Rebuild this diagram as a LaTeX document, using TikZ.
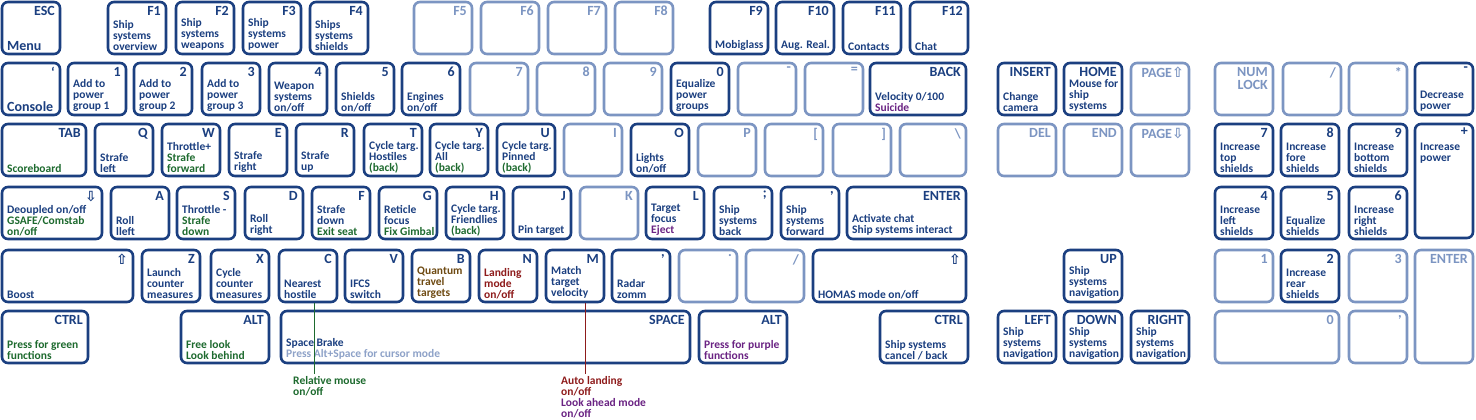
\documentclass[tikz,border=0pt]{standalone}
\usepackage{fontspec}
\setmainfont{Carlito}
\newfontfamily\arw{DejaVu Sans}
\definecolor{dk}{HTML}{1B3F80}
\definecolor{lt}{HTML}{7C95C2}
\definecolor{gn}{HTML}{1D6A2E}
\definecolor{br}{HTML}{6E4A12}
\definecolor{rd}{HTML}{8E1B1B}
\definecolor{pu}{HTML}{6A2383}
\definecolor{gy}{HTML}{8EA2C8}
\newcommand\cG[1]{\textcolor{gn}{#1}}
\newcommand\cR[1]{\textcolor{rd}{#1}}
\newcommand\cP[1]{\textcolor{pu}{#1}}
\newcommand\cB[1]{\textcolor{br}{#1}}
\newcommand\cY[1]{\textcolor{gy}{#1}}
\newcommand\uparw{{\arw\char"21E7}}
\newcommand\dnarw{{\arw\char"21E9}}
\tikzset{
 kb/.style={line width=2.6pt,rounded corners=6pt,inner sep=0pt,fill=white},
 kl/.style={font=\bfseries\fontsize{14}{13}\selectfont,inner sep=0pt,align=right},
 kd/.style={text=dk,font=\bfseries\fontsize{11.5}{11}\selectfont,inner sep=0pt,align=left},
}
\newcommand\kbd[8]{%
 \node[kb,draw=#6,minimum width={(#4-#2)*1pt},minimum height={(#5-#3)*1pt}] (#1) at ({(#2+#4)/2},{(#3+#5)/2}) {};
 \node[kl,text=#6,anchor=north east] (#1l) at (#4-5,#3+4) {#7};
 \node[kd,anchor=south west] (#1d) at (#2+5,#5-3) {#8};}
\begin{document}
\begin{tikzpicture}[x=1pt,y=-1pt]
\useasboundingbox (0,0) rectangle (1476,420);
% row 0
\kbd{esc}{2}{2}{60}{54}{dk}{ESC}{\fontsize{14}{14}\selectfont Menu}
\kbd{f1}{108}{2}{166}{54}{dk}{F1}{Ship\\systems\\overview}
\kbd{f2}{176}{2}{234}{54}{dk}{F2}{Ship\\systems\\weapons}
\kbd{f3}{243}{2}{301}{54}{dk}{F3}{Ship\\systems\\power}
\kbd{f4}{310}{2}{368}{54}{dk}{F4}{Ships\\systems\\shields}
\kbd{f5}{414}{2}{472}{54}{lt}{F5}{}
\kbd{f6}{481}{2}{539}{54}{lt}{F6}{}
\kbd{f7}{548}{2}{606}{54}{lt}{F7}{}
\kbd{f8}{615}{2}{673}{54}{lt}{F8}{}
\kbd{f9}{710}{2}{768}{54}{dk}{F9}{Mobiglass}
\kbd{f10}{776}{2}{834}{54}{dk}{F10}{Aug. Real.}
\kbd{f11}{843}{2}{901}{54}{dk}{F11}{Contacts}
\kbd{f12}{910}{2}{968}{54}{dk}{F12}{Chat}
% row 1
\kbd{grv}{2}{63}{60}{115}{dk}{`}{\fontsize{14}{14}\selectfont Console}
\kbd{k1}{68}{63}{126}{115}{dk}{1}{Add to\\power\\group 1}
\kbd{k2}{134}{63}{192}{115}{dk}{2}{Add to\\power\\group 2}
\kbd{k3}{202}{63}{260}{115}{dk}{3}{Add to\\power\\group 3}
\kbd{k4}{269}{63}{327}{115}{dk}{4}{Weapon\\systems\\on/off}
\kbd{k5}{336}{63}{394}{115}{dk}{5}{Shields\\on/off}
\kbd{k6}{402}{63}{460}{115}{dk}{6}{Engines\\on/off}
\kbd{k7}{470}{63}{528}{115}{lt}{7}{}
\kbd{k8}{537}{63}{595}{115}{lt}{8}{}
\kbd{k9}{604}{63}{662}{115}{lt}{9}{}
\kbd{k0}{671}{63}{729}{115}{dk}{0}{Equalize\\power\\groups}
\kbd{kmin}{738}{63}{796}{115}{lt}{-}{}
\kbd{keq}{805}{63}{863}{115}{lt}{=}{}
\kbd{back}{870}{63}{966}{115}{dk}{BACK}{Velocity 0/100\\\cP{Suicide}}
\kbd{ins}{998}{63}{1056}{115}{dk}{INSERT}{Change\\camera}
\kbd{home}{1064}{63}{1122}{115}{dk}{HOME}{Mouse for\\ship\\systems}
\kbd{pgu}{1131}{63}{1189}{115}{lt}{PAGE\uparw}{}
\kbd{num}{1215}{63}{1273}{115}{lt}{NUM\\LOCK}{}
\kbd{ndiv}{1283}{63}{1341}{115}{lt}{/}{}
\kbd{nmul}{1349}{63}{1407}{115}{lt}{*}{}
\kbd{nsub}{1415}{63}{1473}{115}{dk}{-}{Decrease\\power}
% row 2
\kbd{tab}{2}{124}{86}{176}{dk}{TAB}{\cG{Scoreboard}}
\kbd{q}{95}{124}{153}{176}{dk}{Q}{Strafe\\left}
\kbd{w}{162}{124}{220}{176}{dk}{W}{Throttle+\\\cG{Strafe}\\\cG{forward}}
\kbd{e}{229}{124}{287}{176}{dk}{E}{Strafe\\right}
\kbd{r}{296}{124}{354}{176}{dk}{R}{Strafe\\up}
\kbd{t}{364}{124}{422}{176}{dk}{T}{Cycle targ.\\Hostiles\\\cG{(back)}}
\kbd{y}{430}{124}{488}{176}{dk}{Y}{Cycle targ.\\All\\\cG{(back)}}
\kbd{u}{497}{124}{555}{176}{dk}{U}{Cycle targ.\\Pinned\\\cG{(back)}}
\kbd{i}{564}{124}{622}{176}{lt}{I}{}
\kbd{o}{631}{124}{689}{176}{dk}{O}{Lights\\on/off}
\kbd{p}{698}{124}{756}{176}{lt}{P}{}
\kbd{lb}{765}{124}{823}{176}{lt}{[}{}
\kbd{rb}{833}{124}{891}{176}{lt}{]}{}
\kbd{bs}{900}{124}{966}{176}{lt}{\textbackslash}{}
\kbd{del}{998}{124}{1056}{176}{lt}{DEL}{}
\kbd{end}{1064}{124}{1122}{176}{lt}{END}{}
\kbd{pgd}{1131}{124}{1189}{176}{lt}{PAGE\dnarw}{}
\kbd{n7}{1215}{124}{1273}{176}{dk}{7}{Increase\\top\\shields}
\kbd{n8}{1281}{124}{1339}{176}{dk}{8}{Increase\\fore\\shields}
\kbd{n9}{1349}{124}{1407}{176}{dk}{9}{Increase\\bottom\\shields}
\kbd{nadd}{1415}{124}{1473}{238}{dk}{+}{}
\node[kd,anchor=north west] (naddd) at (1420,143) {Increase\\power};
% row 3
\kbd{caps}{2}{187}{102}{239}{dk}{\dnarw}{Deoupled on/off\\\cG{GSAFE/Comstab}\\\cG{on/off}}
\kbd{a}{111}{187}{169}{239}{dk}{A}{Roll\\lleft}
\kbd{s}{177}{187}{235}{239}{dk}{S}{Throttle -\\\cG{Strafe}\\\cG{down}}
\kbd{d}{245}{187}{303}{239}{dk}{D}{Roll\\right}
\kbd{f}{312}{187}{370}{239}{dk}{F}{Strafe\\down\\\cG{Exit seat}}
\kbd{g}{379}{187}{437}{239}{dk}{G}{Reticle\\focus\\\cG{Fix Gimbal}}
\kbd{h}{446}{187}{504}{239}{dk}{H}{Cycle targ.\\Friendlies\\\cG{(back)}}
\kbd{j}{513}{187}{571}{239}{dk}{J}{Pin target}
\kbd{k}{580}{187}{638}{239}{lt}{K}{}
\kbd{l}{646}{187}{704}{239}{dk}{L}{Target\\focus\\\cP{Eject}}
\kbd{sc}{714}{187}{772}{239}{dk}{;}{Ship\\systems\\back}
\kbd{ap}{781}{187}{839}{239}{dk}{,}{Ship\\systems\\forward}
\kbd{ent}{847}{187}{966}{239}{dk}{ENTER}{Activate chat\\Ship systems interact}
\kbd{n4}{1215}{187}{1273}{239}{dk}{4}{Increase\\left\\shields}
\kbd{n5}{1281}{187}{1339}{239}{dk}{5}{Equalize\\shields}
\kbd{n6}{1349}{187}{1407}{239}{dk}{6}{Increase\\right\\shields}
% row 4
\kbd{lsh}{2}{250}{133}{302}{dk}{\uparw}{Boost}
\kbd{z}{142}{250}{200}{302}{dk}{Z}{Launch\\counter\\measures}
\kbd{x}{211}{250}{269}{302}{dk}{X}{Cycle\\counter\\measures}
\kbd{c}{279}{250}{337}{302}{dk}{C}{Nearest\\hostile}
\kbd{v}{345}{250}{403}{302}{dk}{V}{IFCS\\switch}
\kbd{b}{412}{250}{470}{302}{dk}{B}{\cB{Quantum}\\\cB{travel}\\\cB{targets}}
\kbd{n}{479}{250}{537}{302}{dk}{N}{\cR{Landing}\\\cR{mode}\\\cR{on/off}}
\kbd{m}{546}{250}{604}{302}{dk}{M}{Match\\target\\velocity}
\kbd{cm}{612}{250}{670}{302}{dk}{,}{Radar\\zomm}
\kbd{dot}{679}{250}{737}{302}{lt}{.}{}
\kbd{sl}{746}{250}{804}{302}{lt}{/}{}
\kbd{rsh}{813}{250}{966}{302}{dk}{\uparw}{HOMAS mode on/off}
\kbd{up}{1064}{250}{1122}{302}{dk}{UP}{Ship\\systems\\navigation}
\kbd{n1}{1215}{250}{1273}{302}{lt}{1}{}
\kbd{n2}{1281}{250}{1339}{302}{dk}{2}{Increase\\rear\\shields}
\kbd{n3}{1349}{250}{1407}{302}{lt}{3}{}
\kbd{nent}{1415}{250}{1473}{363}{lt}{ENTER}{}
% row 5
\kbd{lct}{2}{311}{88}{363}{dk}{CTRL}{\cG{Press for green}\\\cG{functions}}
\kbd{lal}{181}{311}{269}{363}{dk}{ALT}{\cG{Free look}\\\cG{Look behind}}
\kbd{spc}{281}{311}{690}{363}{dk}{SPACE}{Space Brake\\\cY{Press Alt+Space for cursor mode}}
\kbd{ral}{699}{311}{787}{363}{dk}{ALT}{\cP{Press for purple}\\\cP{functions}}
\kbd{rct}{880}{311}{968}{363}{dk}{CTRL}{Ship systems\\cancel / back}
\kbd{lf}{998}{311}{1056}{363}{dk}{LEFT}{Ship\\systems\\navigation}
\kbd{dw}{1064}{311}{1122}{363}{dk}{DOWN}{Ship\\systems\\navigation}
\kbd{rt}{1131}{311}{1189}{363}{dk}{RIGHT}{Ship\\systems\\navigation}
\kbd{n0}{1215}{311}{1339}{363}{lt}{0}{}
\kbd{ndot}{1349}{311}{1407}{363}{lt}{,}{}
% callouts
\coordinate (rm) at (314,374);
\coordinate (al) at (585,374);
\draw[gn,line width=1pt] (rm |- c.south) -- (rm);
\draw[rd,line width=1pt] (al |- m.south) -- (al);
\node[kd,anchor=north west] (rmt) at (293,376) {\cG{Relative mouse}\\\cG{on/off}};
\node[kd,anchor=north west] (alt) at (561,376) {\cR{Auto landing}\\\cR{on/off}\\\cP{Look ahead mode}\\\cP{on/off}};
\end{tikzpicture}
\end{document}
